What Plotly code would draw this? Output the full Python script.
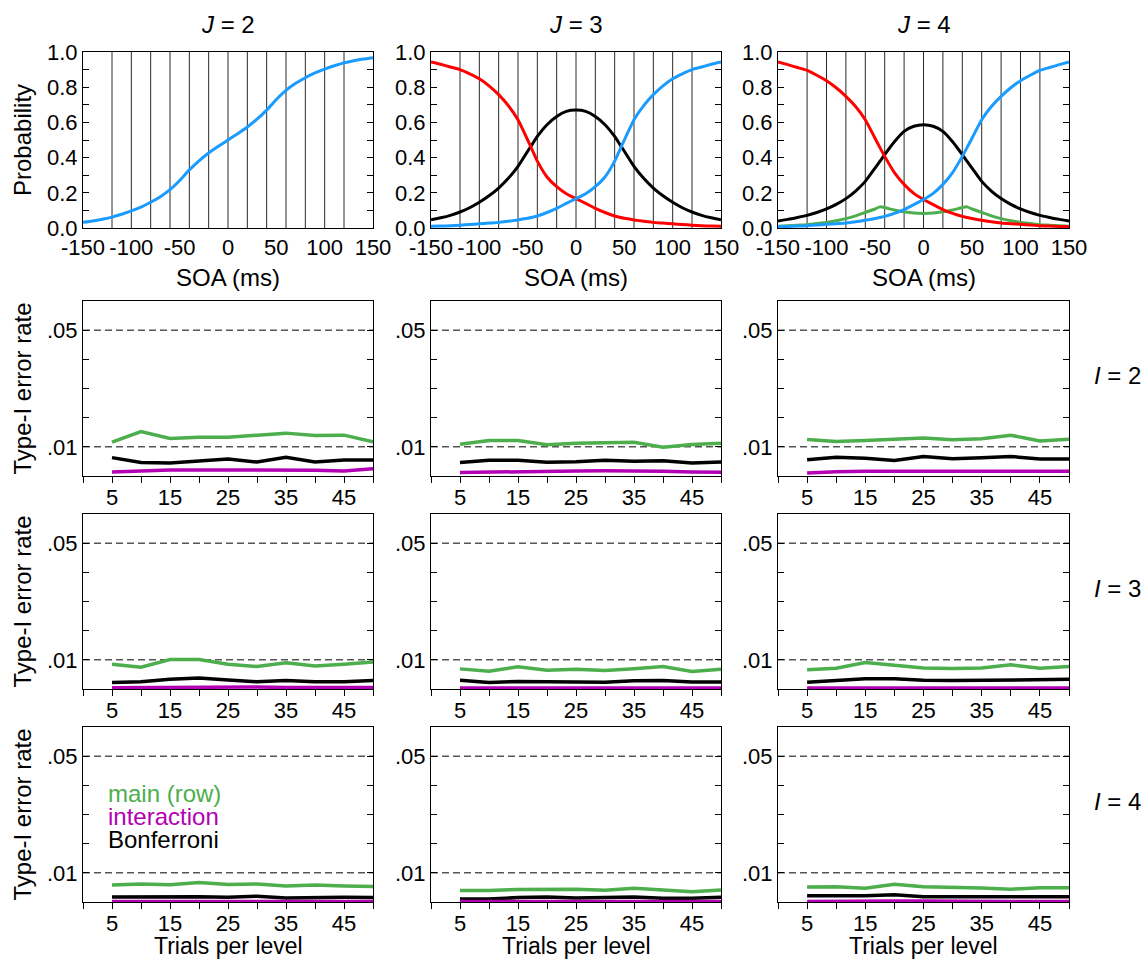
import plotly.graph_objects as go

# ---------------- data ----------------
soa = [-150, -140, -130, -120, -110, -100, -90, -80, -70, -60, -50, -45, -40, -30, -20, -10, 0,
       10, 20, 30, 40, 45, 50, 60, 70, 80, 90, 100, 110, 120, 130, 140, 150]
soa_bins = [-120, -100, -80, -60, -40, -20, 0, 20, 40, 60, 80, 100, 120]
soa_ticks = [-150, -100, -50, 0, 50, 100, 150]
soa_ticktext = ["-150", "-100", "-50", "0", "50", "100", "150"]
prob_ticks = [0, 0.1, 0.2, 0.3, 0.4, 0.5, 0.6, 0.7, 0.8, 0.9, 1.0]
prob_ticktext = ["0.0", "", "0.2", "", "0.4", "", "0.6", "", "0.8", "", "1.0"]

j2_blue = [.032, .040, .050, .062, .078, .097, .119, .146, .178, .218, .270, .300, .330, .382, .426, .464, .500,
           .536, .574, .618, .670, .700, .730, .782, .822, .854, .881, .903, .922, .938, .950, .960, .968]

j3_red = [.943, .930, .915, .900, .876, .848, .808, .758, .695, .615, .500, .440, .380, .290, .235, .195, .167,
          .140, .112, .088, .068, .061, .055, .046, .038, .032, .028, .024, .020, .016, .013, .011, .010]
j3_blue = [.010, .011, .013, .016, .020, .024, .028, .032, .038, .046, .055, .061, .068, .088, .112, .140, .167,
           .195, .235, .290, .380, .440, .500, .615, .695, .758, .808, .848, .876, .900, .915, .930, .943]
j3_black = [.047, .058, .072, .091, .115, .146, .183, .227, .282, .350, .436, .478, .520, .587, .634, .663, .670,
            .663, .634, .587, .520, .478, .436, .350, .282, .227, .183, .146, .115, .091, .072, .058, .047]

j4_red = [.943, .928, .912, .896, .868, .837, .797, .748, .690, .615, .510, .458, .407, .315, .248, .197, .162,
          .133, .105, .083, .066, .060, .054, .044, .035, .028, .024, .021, .017, .013, .011, .009, .008]
j4_blue = [.008, .009, .011, .013, .017, .021, .024, .028, .035, .044, .054, .060, .066, .083, .105, .133, .162,
           .197, .248, .315, .407, .458, .510, .615, .690, .748, .797, .837, .868, .896, .912, .928, .943]
j4_green = [.010, .013, .016, .019, .025, .032, .041, .053, .069, .089, .108, .120, .116, .102, .092, .085, .083,
            .085, .092, .102, .116, .120, .108, .089, .069, .053, .041, .032, .025, .019, .016, .013, .010]
j4_black = [.040, .049, .060, .072, .088, .108, .134, .167, .210, .265, .340, .378, .417, .490, .549, .578, .587,
            .578, .549, .490, .417, .378, .340, .265, .210, .167, .134, .108, .088, .072, .060, .049, .040]

trials = [5, 10, 15, 20, 25, 30, 35, 40, 45, 50]
trial_ticks = [0, 5, 10, 15, 20, 25, 30, 35, 40, 45, 50]
trial_ticktext = ["", "5", "", "15", "", "25", "", "35", "", "45", ""]
err_ticks = [0.01, 0.02, 0.03, 0.04, 0.05]
err_ticktext = [".01", "", "", "", ".05"]
alpha_levels = [0.01, 0.05]

# I = 2
main_I2_J2 = [.0116, .0152, .0129, .0133, .0133, .0139, .0147, .0139, .0140, .0117]
inter_I2_J2 = [.0014, .0018, .0021, .0021, .0021, .0021, .0021, .0020, .0017, .0025]
bonf_I2_J2 = [.0063, .0046, .0045, .0052, .0058, .0048, .0064, .0048, .0055, .0055]
main_I2_J3 = [.0109, .0122, .0122, .0107, .0112, .0115, .0116, .0099, .0108, .0112]
inter_I2_J3 = [.0012, .0014, .0015, .0016, .0017, .0018, .0018, .0016, .0014, .0013]
bonf_I2_J3 = [.0046, .0054, .0054, .0047, .0049, .0054, .0051, .0052, .0045, .0048]
main_I2_J4 = [.0125, .0118, .0122, .0126, .0130, .0124, .0128, .0140, .0120, .0126]
inter_I2_J4 = [.0010, .0015, .0016, .0016, .0016, .0017, .0016, .0016, .0016, .0016]
bonf_I2_J4 = [.0056, .0064, .0061, .0053, .0067, .0059, .0063, .0067, .0058, .0058]
# I = 3
main_I3_J2 = [.0085, .0075, .0101, .0101, .0085, .0077, .0090, .0079, .0085, .0093]
inter_I3_J2 = [.0004, .0005, .0006, .0006, .0005, .0007, .0005, .0006, .0005, .0005]
bonf_I3_J2 = [.0022, .0025, .0033, .0038, .0031, .0025, .0029, .0025, .0025, .0029]
main_I3_J3 = [.0069, .0061, .0076, .0064, .0068, .0063, .0069, .0077, .0060, .0068]
inter_I3_J3 = [.0003, .0003, .0003, .0003, .0003, .0003, .0003, .0003, .0003, .0003]
bonf_I3_J3 = [.0030, .0022, .0026, .0026, .0026, .0023, .0028, .0029, .0024, .0024]
main_I3_J4 = [.0066, .0071, .0091, .0082, .0072, .0070, .0072, .0083, .0071, .0077]
inter_I3_J4 = [.0003, .0003, .0003, .0003, .0003, .0003, .0003, .0003, .0003, .0003]
bonf_I3_J4 = [.0023, .0028, .0035, .0035, .0030, .0029, .0030, .0030, .0033, .0033]
# I = 4
main_I4_J2 = [.0058, .0062, .0059, .0067, .0060, .0062, .0055, .0058, .0055, .0053]
inter_I4_J2 = [.0002, .0002, .0002, .0002, .0002, .0003, .0002, .0002, .0002, .0002]
bonf_I4_J2 = [.0017, .0018, .0018, .0018, .0016, .0020, .0014, .0016, .0016, .0015]
main_I4_J3 = [.0039, .0039, .0043, .0044, .0044, .0040, .0047, .0041, .0035, .0041]
inter_I4_J3 = [.0002, .0002, .0002, .0002, .0002, .0002, .0002, .0002, .0002, .0002]
bonf_I4_J3 = [.0010, .0010, .0015, .0017, .0014, .0015, .0017, .0013, .0013, .0016]
main_I4_J4 = [.0051, .0052, .0047, .0061, .0052, .0051, .0048, .0044, .0049, .0049]
inter_I4_J4 = [.0002, .0003, .0003, .0003, .0003, .0002, .0002, .0002, .0002, .0002]
bonf_I4_J4 = [.0021, .0021, .0021, .0025, .0018, .0018, .0018, .0018, .0018, .0018]

err_panels = [
    [(main_I2_J2, inter_I2_J2, bonf_I2_J2), (main_I2_J3, inter_I2_J3, bonf_I2_J3), (main_I2_J4, inter_I2_J4, bonf_I2_J4)],
    [(main_I3_J2, inter_I3_J2, bonf_I3_J2), (main_I3_J3, inter_I3_J3, bonf_I3_J3), (main_I3_J4, inter_I3_J4, bonf_I3_J4)],
    [(main_I4_J2, inter_I4_J2, bonf_I4_J2), (main_I4_J3, inter_I4_J3, bonf_I4_J3), (main_I4_J4, inter_I4_J4, bonf_I4_J4)],
]
col_labels = ["<i>J</i> = 2", "<i>J</i> = 3", "<i>J</i> = 4"]
row_labels = ["<i>I</i> = 2", "<i>I</i> = 3", "<i>I</i> = 4"]
legend_labels = ["main (row)", "interaction", "Bonferroni"]

# ---------------- style ----------------
W, H = 1148, 960
FONT = "Liberation Sans, Arial, Helvetica, sans-serif"
BLUE, RED, GREEN, MAGENTA, BLACK = "#1a9bff", "#ff0000", "#4cae4c", "#b400b4", "#000000"
col_px = [(83, 373), (431, 721), (778, 1069)]
row_px = [(52, 228), (301, 476), (514, 689), (727, 902)]


def px_x(x):
    return x / W


def px_y(y):
    return 1 - y / H


fig = go.Figure()
layout = dict(width=W, height=H, margin=dict(l=0, r=0, t=0, b=0, autoexpand=False), paper_bgcolor="white",
              plot_bgcolor="white", showlegend=False, font=dict(family=FONT, size=22, color="black"))
annotations = []


def axname(k):
    return ("x" if k == 0 else f"x{k+1}"), ("y" if k == 0 else f"y{k+1}")


for r in range(4):
    for c in range(3):
        k = r * 3 + c
        xa, ya = axname(k)
        xkey = "xaxis" if k == 0 else f"xaxis{k+1}"
        ykey = "yaxis" if k == 0 else f"yaxis{k+1}"
        x0, x1 = col_px[c]
        y0, y1 = row_px[r]
        xd = [px_x(x0), px_x(x1)]
        yd = [px_y(y1), px_y(y0)]
        base = dict(showline=True, linecolor="black", linewidth=1, showgrid=False, zeroline=False,
                    tickcolor="black", tickwidth=1, tickfont=dict(family=FONT, size=22, color="black"),
                    fixedrange=True, automargin=False, tickangle=0)
        if r == 0:
            layout[xkey] = dict(base, domain=xd, anchor=ya, range=[-150, 150], tickmode="array",
                                tickvals=soa_ticks, ticktext=soa_ticktext, ticks="", mirror=True)
            layout[ykey] = dict(base, domain=yd, anchor=xa, range=[0, 1], tickmode="array",
                                tickvals=prob_ticks, ticktext=prob_ticktext, ticks="inside",
                                ticklen=6, mirror="allticks")
            # bin boundary lines
            vx, vy = [], []
            for b in soa_bins:
                vx += [b, b, None]
                vy += [0, 1, None]
            fig.add_trace(go.Scatter(x=vx, y=vy, mode="lines", xaxis=xa, yaxis=ya,
                                     line=dict(color="#2a2a2a", width=1), hoverinfo="skip"))
            if c == 0:
                curves = [(j2_blue, BLUE)]
            elif c == 1:
                curves = [(j3_black, BLACK), (j3_red, RED), (j3_blue, BLUE)]
            else:
                curves = [(j4_green, GREEN), (j4_black, BLACK), (j4_red, RED), (j4_blue, BLUE)]
            for vals, col in curves:
                fig.add_trace(go.Scatter(x=soa, y=vals, mode="lines", xaxis=xa, yaxis=ya,
                                         line=dict(color=col, width=3, shape="spline", smoothing=0.5)))
            annotations.append(dict(text=col_labels[c], x=px_x((x0 + x1) / 2), y=px_y(25), xref="paper",
                                    yref="paper", showarrow=False, xanchor="center", yanchor="middle",
                                    font=dict(family=FONT, size=24)))
            annotations.append(dict(text="SOA (ms)", x=px_x((x0 + x1) / 2), y=px_y(277), xref="paper",
                                    yref="paper", showarrow=False, xanchor="center", yanchor="middle",
                                    font=dict(family=FONT, size=24)))
            if c == 0:
                annotations.append(dict(text="Probability", x=px_x(22), y=px_y((y0 + y1) / 2),
                                        xref="paper", yref="paper", showarrow=False, textangle=-90,
                                        xanchor="center", yanchor="middle", font=dict(family=FONT, size=24)))
        else:
            layout[xkey] = dict(base, domain=xd, anchor=ya, range=[0, 50], tickmode="array",
                                tickvals=trial_ticks, ticktext=trial_ticktext, ticks="outside",
                                ticklen=6, mirror=True, ticklabelstandoff=-4)
            layout[ykey] = dict(base, domain=yd, anchor=xa, range=[0, 0.06], tickmode="array",
                                tickvals=err_ticks, ticktext=err_ticktext, ticks="inside",
                                ticklen=6, mirror="allticks")
            dx, dy = [], []
            for a in alpha_levels:
                dx += [0, 50, None]
                dy += [a, a, None]
            fig.add_trace(go.Scatter(x=dx, y=dy, mode="lines", xaxis=xa, yaxis=ya,
                                     line=dict(color="black", width=1, dash="7px,4px"), hoverinfo="skip"))
            main, inter, bonf = err_panels[r - 1][c]
            for vals, col in [(bonf, BLACK), (main, GREEN), (inter, MAGENTA)]:
                fig.add_trace(go.Scatter(x=trials, y=vals, mode="lines", xaxis=xa, yaxis=ya,
                                         line=dict(color=col, width=3.5), cliponaxis=False))
            if c == 0:
                annotations.append(dict(text="Type-I error rate", x=px_x(22), y=px_y((y0 + y1) / 2),
                                        xref="paper", yref="paper", showarrow=False, textangle=-90,
                                        xanchor="center", yanchor="middle", font=dict(family=FONT, size=24)))
            if c == 2:
                annotations.append(dict(text=row_labels[r - 1], x=px_x(1117), y=px_y((y0 + y1) / 2 - 13),
                                        xref="paper", yref="paper", showarrow=False, xanchor="center",
                                        yanchor="middle", font=dict(family=FONT, size=24)))
            if r == 3:
                annotations.append(dict(text="Trials per level", x=px_x((x0 + x1) / 2), y=px_y(946),
                                        xref="paper", yref="paper", showarrow=False, xanchor="center",
                                        yanchor="middle", font=dict(family=FONT, size=23)))

for i, (lab, col) in enumerate(zip(legend_labels, [GREEN, MAGENTA, BLACK])):
    annotations.append(dict(text=lab, x=px_x(106), y=px_y(793 + 23 * i), xref="paper", yref="paper",
                            showarrow=False, xanchor="left", yanchor="middle",
                            font=dict(family=FONT, size=24, color=col)))

layout["annotations"] = annotations
fig.update_layout(**layout)
fig.write_html("out.html")
